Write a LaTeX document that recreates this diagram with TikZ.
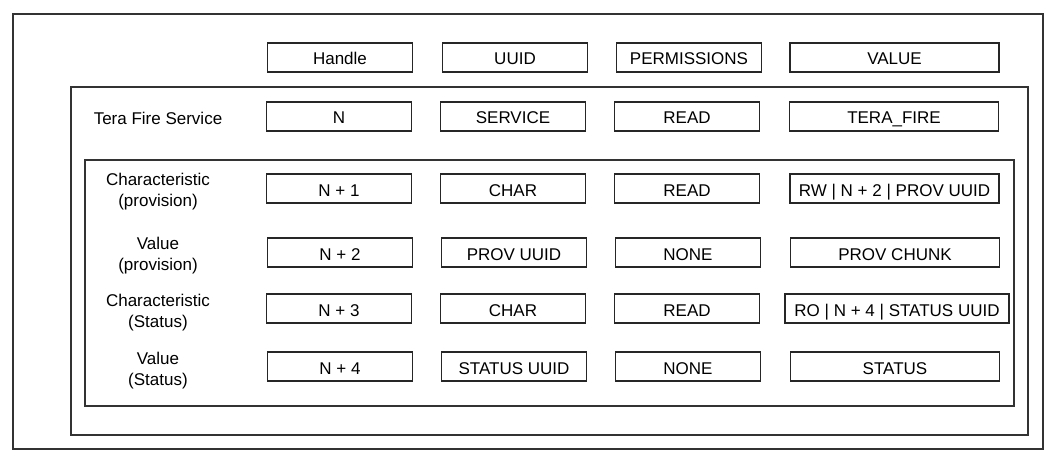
\documentclass[tikz,border=0pt]{standalone}
\usepackage{fontspec}
\setmainfont{Liberation Sans}
\begin{document}
\begin{tikzpicture}[x=1pt,y=-1pt,
  every node/.style={font=\fontsize{17}{21}\selectfont, text=black},
  cell/.style={draw=black!85, line width=1.3pt, minimum height=29pt, inner sep=0pt, fill=white, text height=15pt, text depth=0pt},
  cw1/.style={cell, minimum width=145pt},
  cw4/.style={cell, minimum width=209pt},
  frame/.style={draw=black!80, line width=1.3pt},
  lbl/.style={align=center, inner sep=0pt}]
\useasboundingbox (0,0) rectangle (1062,468);
% containers
\draw[frame] (13,14) rectangle (1043,449);
\draw[frame] (71,87) rectangle (1028,435);
\draw[frame] (85,160) rectangle (1014,406);
% header
\node[cw1] (hHandle) at (340,57.5) {Handle};
\node[cw1] (hUUID) at (515,57.5) {UUID};
\node[cw1] (hPerm) at (689,57.5) {PERMISSIONS};
\node[cw4] (hValue) at (894.5,57.5) {VALUE};
% service row
\node[lbl] (lSvc) at (158,118) {Tera Fire Service};
\node[cw1] (sH) at (339,116.5) {N};
\node[cw1] (sU) at (513,116.5) {SERVICE};
\node[cw1] (sP) at (687,116.5) {READ};
\node[cw4] (sV) at (894,116.5) {TERA\_FIRE};
% N+1
\node[lbl] (l1) at (158,192) {Characteristic\\(provision)};
\node[cw1] (aH) at (339,188.5) {N + 1};
\node[cw1] (aU) at (513,188.5) {CHAR};
\node[cw1] (aP) at (687,188.5) {READ};
\node[cw4] (aV) at (894.5,188.5) {RW | N + 2 | PROV UUID};
% N+2
\node[lbl] (l2) at (158,256) {Value\\(provision)};
\node[cw1] (bH) at (340,252.5) {N + 2};
\node[cw1] (bU) at (514,252.5) {PROV UUID};
\node[cw1] (bP) at (688,252.5) {NONE};
\node[cw4] (bV) at (895,252.5) {PROV CHUNK};
% N+3
\node[lbl] (l3) at (158,313) {Characteristic\\(Status)};
\node[cw1] (cH) at (339,308.5) {N + 3};
\node[cw1] (cU) at (513,308.5) {CHAR};
\node[cw1] (cP) at (687,308.5) {READ};
\node[cell, minimum width=224pt] (cV) at (897,308.5) {RO | N + 4 | STATUS UUID};
% N+4
\node[lbl] (l4) at (158,371) {Value\\(Status)};
\node[cw1] (dH) at (340,366.5) {N + 4};
\node[cw1] (dU) at (514,366.5) {STATUS UUID};
\node[cw1] (dP) at (688,366.5) {NONE};
\node[cw4] (dV) at (895,366.5) {STATUS};
\end{tikzpicture}
\end{document}
